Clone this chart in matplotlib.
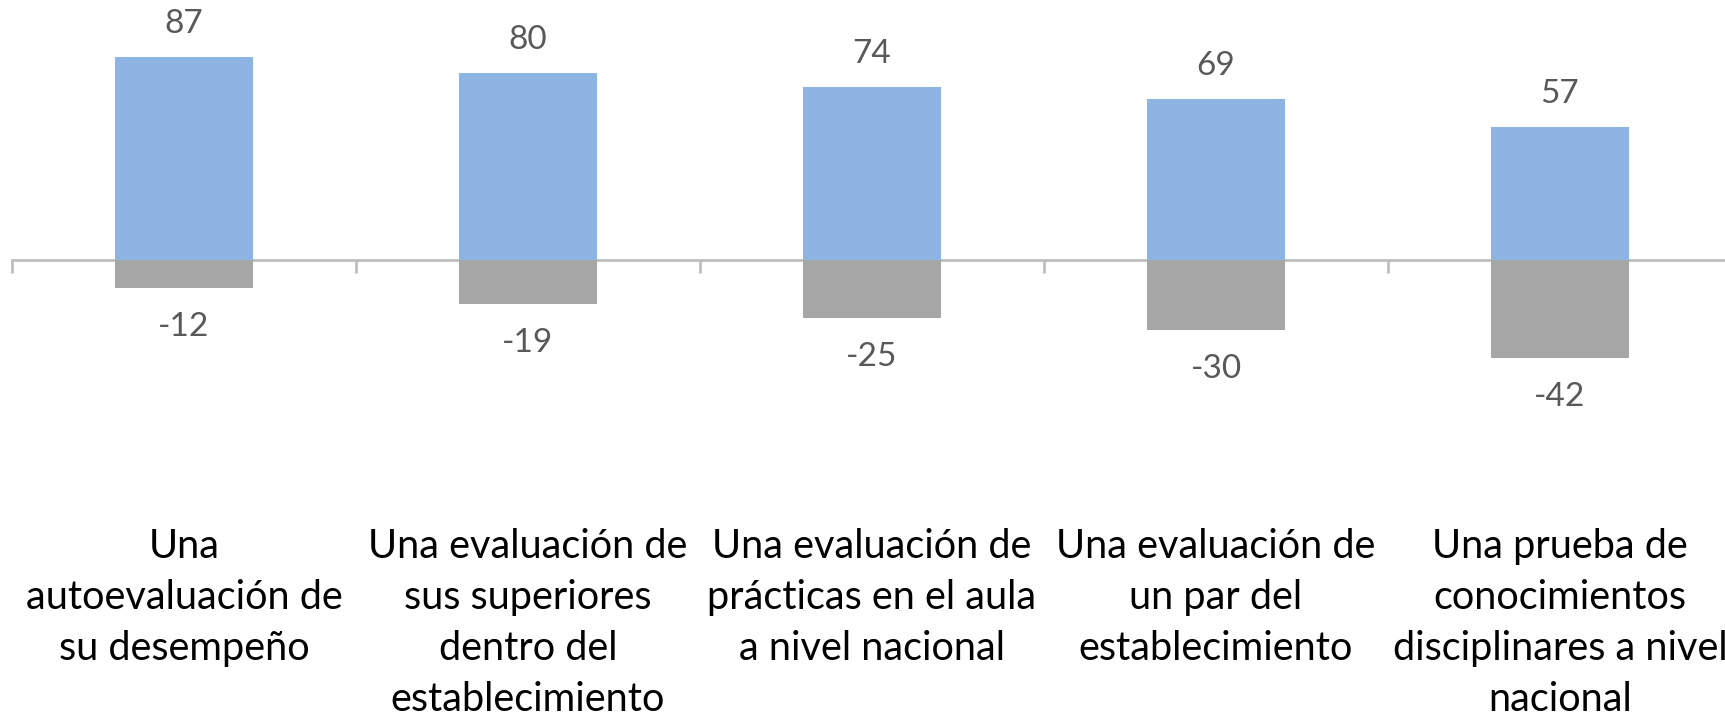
import matplotlib
matplotlib.use("Agg")
import matplotlib.pyplot as plt
import numpy as np

# ---------------------- data
categories = ["Una\nautoevaluación de\nsu desempeño",
              "Una evaluación de\nsus superiores\ndentro del\nestablecimiento",
              "Una evaluación de\nprácticas en el aula\na nivel nacional",
              "Una evaluación de\nun par del\nestablecimiento",
              "Una prueba de\nconocimientos\ndisciplinares a nivel\nnacional"]
positivos = [87, 80, 74, 69, 57]
negativos = [-12, -19, -25, -30, -42]

plt.rcParams['font.family'] = ['Lato', 'DejaVu Sans']
TXT = '#595959'

fig = plt.figure(figsize=(17.25, 7.18), dpi=100)
ax = fig.add_axes([12/1725, 0, 1720/1725, 1])

x = np.arange(len(categories))
ax.bar(x, positivos, width=0.4, color='#8EB4E3')
ax.bar(x, negativos, width=0.4, color='#A6A6A6')

# etiquetas de valores
for xi, v in zip(x, positivos):
    ax.annotate(str(v), (xi, v), xytext=(0, 24), textcoords='offset points',
                ha='center', va='center', fontsize=24, color=TXT)
for xi, v in zip(x, negativos):
    ax.annotate(str(v), (xi, v), xytext=(0, -28), textcoords='offset points',
                ha='center', va='center', fontsize=24, color=TXT)

ax.set_xlim(-0.5, 4.5)
ax.set_ylim(-196.3, 111.4)

for s in ['top', 'right', 'left']:
    ax.spines[s].set_visible(False)
ax.spines['bottom'].set_position(('data', 0))
ax.spines['bottom'].set_color('#BFBFBF')
ax.spines['bottom'].set_linewidth(2)
ax.spines['bottom'].set_zorder(0)
ax.set_yticks([])

ax.set_xticks(x)
ax.set_xticklabels(categories, fontsize=28.5, color='black', linespacing=1.47)
ax.tick_params(axis='x', which='major', length=0, pad=193)
ax.set_xticks(np.arange(-0.5, 5, 1), minor=True)
ax.tick_params(axis='x', which='minor', length=9, width=2, color='#BFBFBF', direction='out')

fig.savefig('out.png', dpi=100)
